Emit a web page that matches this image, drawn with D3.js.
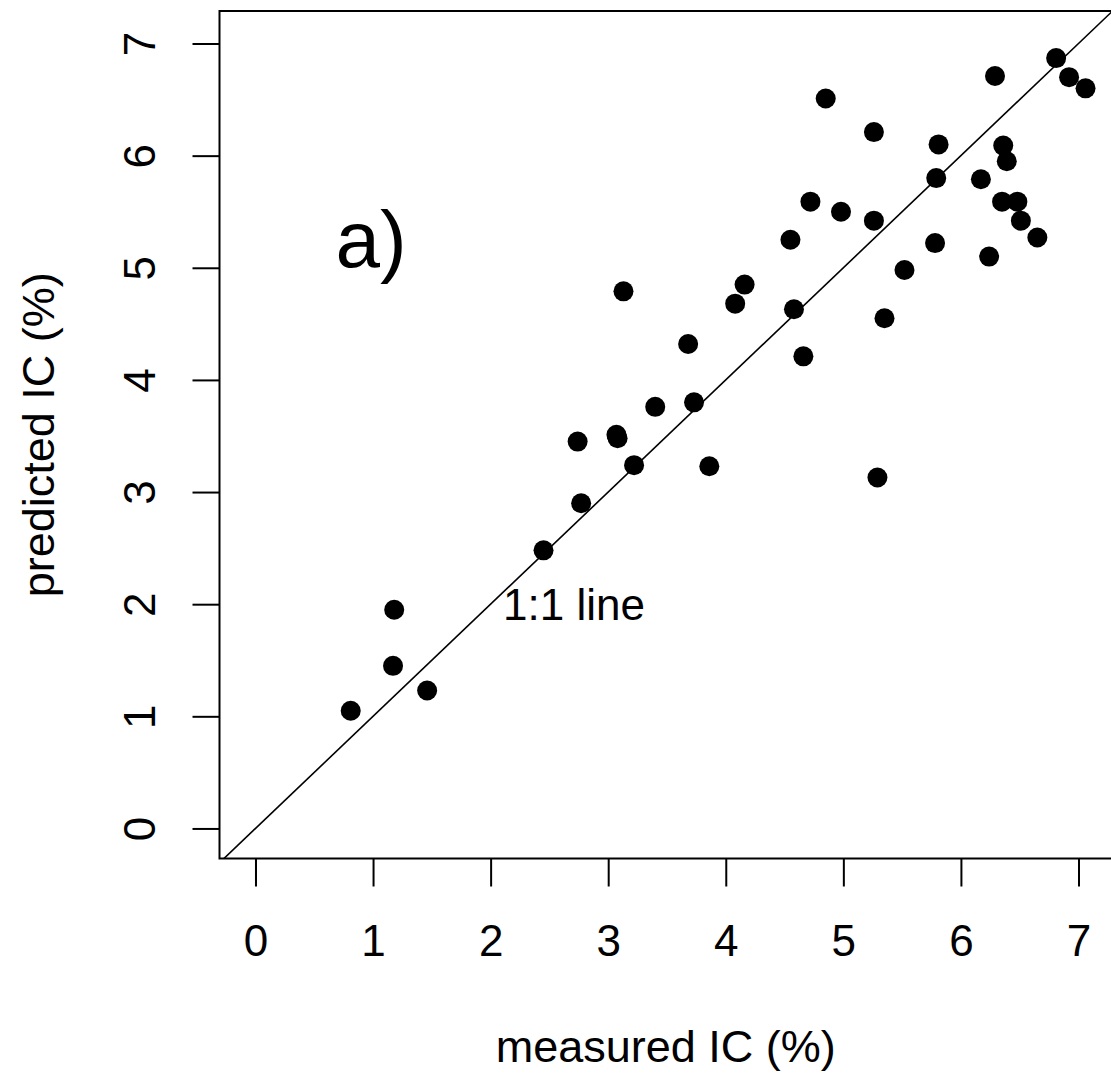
<!DOCTYPE html>
<html>
<head>
<meta charset="utf-8">
<script src="https://cdn.jsdelivr.net/npm/d3@7"></script>
<style>
  body { margin: 0; background: #fff; }
  svg { display: block; font-family: "Liberation Sans", Arial, sans-serif; }
</style>
</head>
<body>
<div id="chart"></div>
<script>
// measured vs predicted IC (%)
var measured = [6.81, 6.29, 6.92, 7.06, 4.85, 5.26, 5.81, 6.36, 6.39, 5.79,
                6.17, 4.72, 4.98, 5.26, 6.35, 6.48, 6.51, 6.65, 4.55, 5.78,
                6.24, 5.52, 4.16, 4.08, 4.58, 5.35, 3.68, 4.66, 3.73, 3.40,
                3.86, 5.29, 3.13, 2.74, 3.07, 3.08, 3.22, 2.77, 2.45, 1.18,
                1.17, 1.46, 0.81];
var predicted = [6.87, 6.71, 6.70, 6.60, 6.51, 6.21, 6.10, 6.09, 5.95, 5.80,
                 5.79, 5.59, 5.50, 5.42, 5.59, 5.59, 5.42, 5.27, 5.25, 5.22,
                 5.10, 4.98, 4.85, 4.68, 4.63, 4.55, 4.32, 4.21, 3.80, 3.76,
                 3.23, 3.13, 4.79, 3.45, 3.51, 3.48, 3.24, 2.90, 2.48, 1.95,
                 1.45, 1.23, 1.05];
var xTicks = [0, 1, 2, 3, 4, 5, 6, 7];
var yTicks = [0, 1, 2, 3, 4, 5, 6, 7];

var width = 1111, height = 1074;
var plotLeft = 219.5, plotRight = 1112, plotTop = 11, plotBottom = 858.5;

var svg = d3.select('#chart').append('svg')
    .attr('width', width).attr('height', height);

var x = d3.scaleLinear().domain([-0.306, 7.285]).range([plotLeft, plotRight]);
var y = d3.scaleLinear().domain([-0.268, 7.29]).range([plotBottom, plotTop]);

svg.append('clipPath').attr('id', 'plotclip')
    .append('rect')
    .attr('x', plotLeft).attr('y', plotTop)
    .attr('width', plotRight - plotLeft).attr('height', plotBottom - plotTop);

// 1:1 line
svg.append('line')
    .attr('clip-path', 'url(#plotclip)')
    .attr('x1', x(-1)).attr('y1', y(-1))
    .attr('x2', x(8)).attr('y2', y(8))
    .attr('stroke', '#000').attr('stroke-width', 1.6);

// points
svg.append('g').selectAll('circle')
    .data(measured)
    .enter().append('circle')
    .attr('cx', function(d){ return x(d); })
    .attr('cy', function(d, i){ return y(predicted[i]); })
    .attr('r', 10)
    .attr('fill', '#000');

// box
svg.append('rect')
    .attr('x', plotLeft).attr('y', plotTop)
    .attr('width', plotRight - plotLeft).attr('height', plotBottom - plotTop)
    .attr('fill', 'none').attr('stroke', '#000').attr('stroke-width', 2);

// x axis
var gx = svg.append('g')
    .attr('transform', 'translate(0,' + plotBottom + ')')
    .call(d3.axisBottom(x).tickValues(xTicks).tickSize(28).tickSizeOuter(0));
gx.select('.domain').remove();
gx.selectAll('line').attr('stroke-width', 2);
gx.selectAll('text')
    .attr('y', 97.5).attr('dy', null)
    .style('font-size', '44px').attr('fill', '#000');

// y axis
var gy = svg.append('g')
    .attr('transform', 'translate(' + plotLeft + ',0)')
    .call(d3.axisLeft(y).tickValues(yTicks).tickSize(27).tickSizeOuter(0));
gy.select('.domain').remove();
gy.selectAll('line').attr('stroke-width', 2);
gy.selectAll('text')
    .attr('x', 0).attr('dy', null)
    .attr('text-anchor', 'middle')
    .attr('transform', 'translate(-64.5,0) rotate(-90)')
    .style('font-size', '44px').attr('fill', '#000');

// axis titles
svg.append('text')
    .attr('x', (plotLeft + plotRight) / 2).attr('y', 1062)
    .attr('text-anchor', 'middle')
    .style('font-size', '45px')
    .text('measured IC (%)');

svg.append('text')
    .attr('transform', 'translate(54,' + (plotTop + plotBottom) / 2 + ') rotate(-90)')
    .attr('text-anchor', 'middle')
    .style('font-size', '45px')
    .text('predicted IC (%)');

// annotations
svg.append('text')
    .attr('x', 371).attr('y', 267)
    .attr('text-anchor', 'middle')
    .style('font-size', '80px')
    .text('a)');

svg.append('text')
    .attr('x', 503).attr('y', 620)
    .style('font-size', '44px')
    .text('1:1 line');
</script>
</body>
</html>
